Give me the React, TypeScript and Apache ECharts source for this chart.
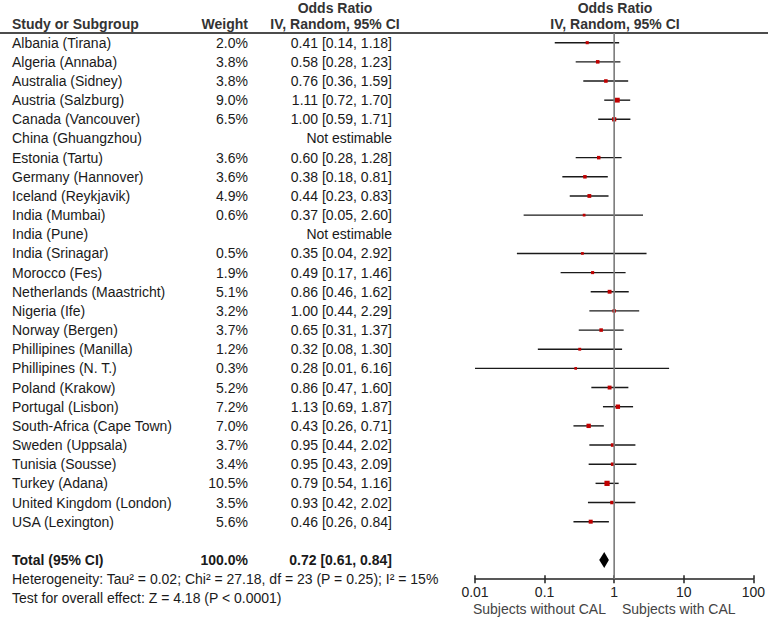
import React, { useEffect, useRef } from "react";
import * as echarts from "echarts";

const studies = [
  "Albania (Tirana)", "Algeria (Annaba)", "Australia (Sidney)", "Austria (Salzburg)",
  "Canada (Vancouver)", "China (Ghuangzhou)", "Estonia (Tartu)", "Germany (Hannover)",
  "Iceland (Reykjavik)", "India (Mumbai)", "India (Pune)", "India (Srinagar)",
  "Morocco (Fes)", "Netherlands (Maastricht)", "Nigeria (Ife)", "Norway (Bergen)",
  "Phillipines (Manilla)", "Phillipines (N. T.)", "Poland (Krakow)", "Portugal (Lisbon)",
  "South-Africa (Cape Town)", "Sweden (Uppsala)", "Tunisia (Sousse)", "Turkey (Adana)",
  "United Kingdom (London)", "USA (Lexington)",
];
const weights: (number | null)[] = [2.0, 3.8, 3.8, 9.0, 6.5, null, 3.6, 3.6, 4.9, 0.6, null, 0.5, 1.9, 5.1, 3.2, 3.7, 1.2, 0.3, 5.2, 7.2, 7.0, 3.7, 3.4, 10.5, 3.5, 5.6];
const oddsRatios: (number | null)[] = [0.41, 0.58, 0.76, 1.11, 1.0, null, 0.6, 0.38, 0.44, 0.37, null, 0.35, 0.49, 0.86, 1.0, 0.65, 0.32, 0.28, 0.86, 1.13, 0.43, 0.95, 0.95, 0.79, 0.93, 0.46];
const ciLow: (number | null)[] = [0.14, 0.28, 0.36, 0.72, 0.59, null, 0.28, 0.18, 0.23, 0.05, null, 0.04, 0.17, 0.46, 0.44, 0.31, 0.08, 0.01, 0.47, 0.69, 0.26, 0.44, 0.43, 0.54, 0.42, 0.26];
const ciHigh: (number | null)[] = [1.18, 1.23, 1.59, 1.7, 1.71, null, 1.28, 0.81, 0.83, 2.6, null, 2.92, 1.46, 1.62, 2.29, 1.37, 1.3, 6.16, 1.6, 1.87, 0.71, 2.02, 2.09, 1.16, 2.02, 0.84];
const total = { label: "Total (95% CI)", weight: 100.0, or: 0.72, lo: 0.61, hi: 0.84 };
const heterogeneityText = "Heterogeneity: Tau\u00b2 = 0.02; Chi\u00b2 = 27.18, df = 23 (P = 0.25); I\u00b2 = 15%";
const overallEffectText = "Test for overall effect: Z = 4.18 (P < 0.0001)";
const axisTicks = [0.01, 0.1, 1, 10, 100];
const favoursLeft = "Subjects without CAL";
const favoursRight = "Subjects with CAL";

const FONT = '"Liberation Sans", Arial, Helvetica, sans-serif';
const FS = 14;
const HFS = 14;
const TXT = "#1a1a1a";
const HDR = "#333333";

const TOTAL_ROW = studies.length + 1;

type TableItem = { row: number; name: string; weight: string; orText: string; bold: boolean };

function fmtCI(o: number, l: number, h: number) {
  return `${o.toFixed(2)} [${l.toFixed(2)}, ${h.toFixed(2)}]`;
}

const tableItems: TableItem[] = [
  ...studies.map((name, i) => ({
    row: i,
    name,
    weight: weights[i] == null ? "" : `${(weights[i] as number).toFixed(1)}%`,
    orText: oddsRatios[i] == null ? "Not estimable" : fmtCI(oddsRatios[i] as number, ciLow[i] as number, ciHigh[i] as number),
    bold: false,
  })),
  { row: TOTAL_ROW, name: total.label, weight: `${total.weight.toFixed(1)}%`, orText: fmtCI(total.or, total.lo, total.hi), bold: true },
  { row: TOTAL_ROW + 1, name: heterogeneityText, weight: "", orText: "", bold: false },
  { row: TOTAL_ROW + 2, name: overallEffectText, weight: "", orText: "", bold: false },
];

const forestData = studies
  .map((_, i) => (oddsRatios[i] == null ? null : [oddsRatios[i], ciLow[i], ciHigh[i], weights[i], i]))
  .filter((d) => d != null) as number[][];

function txt(x: number, y: number, text: string, align: string, bold: boolean, fill = TXT, size = FS) {
  return {
    type: "text",
    x,
    y,
    style: {
      text,
      fill,
      font: `${bold ? "bold " : ""}${size}px ${FONT}`,
      align,
      verticalAlign: "middle",
      textAlign: align,
      textVerticalAlign: "middle",
    },
  };
}

export default function App() {
  const ref = useRef<HTMLDivElement>(null);
  useEffect(() => {
    if (!ref.current) return;
    const chart = echarts.init(ref.current, null, { renderer: "svg" });
    const GT = 33.1;
    const ROWH = 19.16;
    const plotLeft = 475;
    const plotRight = 755;
    const oneX = plotLeft + ((plotRight - plotLeft) * 2) / 4;
    chart.setOption({
      animation: false,
      backgroundColor: "#ffffff",
      textStyle: { fontFamily: FONT },
      grid: [
        { left: 0, width: 768, top: GT, height: ROWH * 30 },
        { left: plotLeft, width: plotRight - plotLeft, top: GT, height: ROWH * 28.5 },
      ],
      xAxis: [
        { type: "value", gridIndex: 0, min: 0, max: 768, show: false },
        {
          type: "log",
          logBase: 10,
          gridIndex: 1,
          min: axisTicks[0],
          max: axisTicks[axisTicks.length - 1],
          position: "bottom",
          axisLine: { show: true, onZero: false, lineStyle: { color: "#222", width: 1.5 } },
          axisTick: { show: true, length: 4, lineStyle: { color: "#222", width: 1.5 } },
          axisLabel: {
            margin: 6,
            color: "#222",
            fontSize: FS,
            fontFamily: FONT,
            formatter: (v: number) => String(Number(v.toPrecision(3))),
          },
          splitLine: { show: false },
        },
        {
          type: "log",
          logBase: 10,
          gridIndex: 1,
          min: axisTicks[0],
          max: axisTicks[axisTicks.length - 1],
          position: "bottom",
          offset: 0,
          axisLine: { show: false, onZero: false },
          axisTick: { show: true, inside: true, length: 4, lineStyle: { color: "#222", width: 1.5 } },
          axisLabel: { show: false },
          splitLine: { show: false },
        },
      ],
      yAxis: [
        { type: "value", gridIndex: 0, min: -0.5, max: 29.5, inverse: true, show: false },
        { type: "value", gridIndex: 1, min: -0.5, max: 28, inverse: true, show: false },
      ],
      graphic: [
        { type: "line", shape: { x1: 0, y1: 33, x2: 768, y2: 33 }, style: { stroke: "#111", lineWidth: 1.5 } },
        txt(12, 24, "Study or Subgroup", "left", true, HDR, HFS),
        txt(248, 24, "Weight", "right", true, HDR, HFS),
        txt(335, 8, "Odds Ratio", "center", true, HDR, HFS),
        txt(335, 24, "IV, Random, 95% CI", "center", true, HDR, HFS),
        txt(oneX, 8, "Odds Ratio", "center", true, HDR, HFS),
        txt(oneX, 24, "IV, Random, 95% CI", "center", true, HDR, HFS),
        txt(oneX - 9, 609, favoursLeft, "right", false, "#444"),
        txt(oneX + 7, 609, favoursRight, "left", false, "#444"),
      ],
      series: [
        {
          type: "custom",
          xAxisIndex: 0,
          yAxisIndex: 0,
          data: tableItems.map((t) => [0, t.row]),
          encode: { x: 0, y: 1 },
          renderItem: (params: any, api: any) => {
            const t = tableItems[params.dataIndex];
            const y = api.coord([0, t.row])[1];
            const kids: any[] = [txt(api.coord([12, 0])[0], y, t.name, "left", t.bold)];
            if (t.weight) kids.push(txt(api.coord([248, 0])[0], y, t.weight, "right", t.bold));
            if (t.orText) kids.push(txt(api.coord([392, 0])[0], y, t.orText, "right", t.bold));
            return { type: "group", children: kids };
          },
        },
        {
          type: "line",
          xAxisIndex: 1,
          yAxisIndex: 1,
          data: [
            [1, -0.5],
            [1, 28],
          ],
          symbol: "none",
          lineStyle: { color: "#7a7a7a", width: 1.6 },
        },
        {
          type: "custom",
          xAxisIndex: 1,
          yAxisIndex: 1,
          data: forestData,
          encode: { x: [0, 1, 2], y: 4 },
          renderItem: (params: any, api: any) => {
            const o = api.value(0);
            const l = api.value(1);
            const h = api.value(2);
            const w = api.value(3);
            const r = api.value(4);
            const p1 = api.coord([l, r]);
            const p2 = api.coord([h, r]);
            const c = api.coord([o, r]);
            const s = 2.6 + 0.25 * w;
            return {
              type: "group",
              children: [
                { type: "line", shape: { x1: p1[0], y1: p1[1], x2: p2[0], y2: p2[1] }, style: { stroke: "#1a1a1a", lineWidth: 1.4 } },
                { type: "rect", shape: { x: c[0] - s / 2, y: c[1] - s / 2, width: s, height: s }, style: { fill: "#c00000" } },
              ],
            };
          },
        },
        {
          type: "custom",
          xAxisIndex: 1,
          yAxisIndex: 1,
          data: [[total.or, total.lo, total.hi, TOTAL_ROW]],
          encode: { x: [0, 1, 2], y: 3 },
          renderItem: (params: any, api: any) => {
            const r = api.value(3);
            const c = api.coord([api.value(0), r]);
            const l = api.coord([api.value(1), r]);
            const h = api.coord([api.value(2), r]);
            const hh = 8;
            return {
              type: "polygon",
              shape: { points: [[l[0], c[1]], [c[0], c[1] - hh], [h[0], c[1]], [c[0], c[1] + hh]] },
              style: { fill: "#000" },
            };
          },
        },
      ],
    });
    return () => chart.dispose();
  }, []);
  return (
    <div
      ref={ref}
      style={{ position: "fixed", left: 0, top: 0, width: 768, height: 617, background: "#fff" }}
    />
  );
}
